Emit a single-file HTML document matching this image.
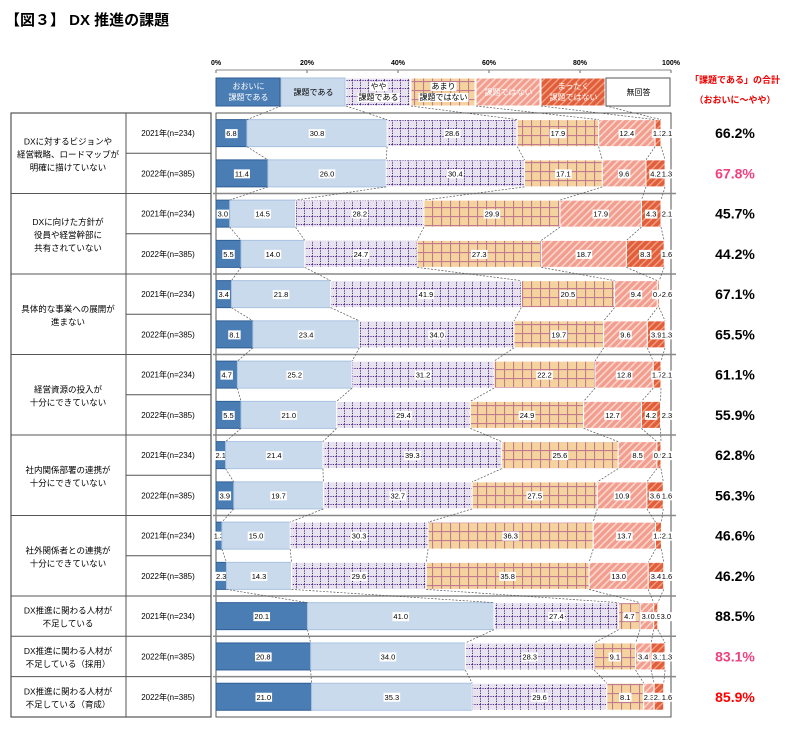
<!DOCTYPE html>
<html><head><meta charset="utf-8">
<style>
body{margin:0;background:#fff;width:800px;height:732px;overflow:hidden;font-family:"Liberation Sans","Noto Sans CJK JP",sans-serif;}
svg{position:absolute;left:0;top:0}
</style></head>
<body>
<svg id="c" width="800" height="732" xmlns="http://www.w3.org/2000/svg">
<defs>
<pattern id="pPur" width="8" height="8" patternUnits="userSpaceOnUse"><rect width="8" height="8" fill="#e8e2ef"/><path d="M0 0.5H8M0.5 0V8" stroke="#4b2a86" stroke-width="1" stroke-dasharray="1.2,1.2"/></pattern>
<pattern id="pOra" width="9" height="9" patternUnits="userSpaceOnUse"><rect width="9" height="9" fill="#f4d39f"/><path d="M0 0.5H9M0.5 0V9" stroke="#c27a8e" stroke-width="1.2"/></pattern>
<pattern id="pPink" width="5" height="5" patternUnits="userSpaceOnUse" patternTransform="rotate(45)"><rect width="5" height="5" fill="#f29d8e"/><rect width="1.6" height="5" fill="#fbd6cd"/></pattern>
<pattern id="pRed" width="5" height="5" patternUnits="userSpaceOnUse" patternTransform="rotate(45)"><rect width="5" height="5" fill="#e15e3b"/><rect width="1.4" height="5" fill="#f2a085"/></pattern>
</defs>
<text x="5" y="25" font-size="15" font-weight="bold" fill="#000">【図３】 DX 推進の課題</text>
<g id="g"></g>
</svg>
<script>
const categories=[["DXに対するビジョンや","経営戦略、ロードマップが","明確に描けていない"],["DXに向けた方針が","役員や経営幹部に","共有されていない"],["具体的な事業への展開が","進まない"],["経営資源の投入が","十分にできていない"],["社内関係部署の連携が","十分にできていない"],["社外関係者との連携が","十分にできていない"],["DX推進に関わる人材が","不足している"],["DX推進に関わる人材が","不足している（採用）"],["DX推進に関わる人材が","不足している（育成）"]];
const yearLabels=["2021年(n=234)","2022年(n=385)","2021年(n=234)","2022年(n=385)","2021年(n=234)","2022年(n=385)","2021年(n=234)","2022年(n=385)","2021年(n=234)","2022年(n=385)","2021年(n=234)","2022年(n=385)","2021年(n=234)","2022年(n=385)","2022年(n=385)"];
const seriesNames=["おおいに\n課題である","課題である","やや\n課題である","あまり\n課題ではない","課題ではない","まったく\n課題ではない","無回答"];
const values=[
[6.8,30.8,28.6,17.9,12.4,1.3,2.1],[11.4,26.0,30.4,17.1,9.6,4.2,1.3],
[3.0,14.5,28.2,29.9,17.9,4.3,2.1],[5.5,14.0,24.7,27.3,18.7,8.3,1.6],
[3.4,21.8,41.9,20.5,9.4,0.4,2.6],[8.1,23.4,34.0,19.7,9.6,3.9,1.3],
[4.7,25.2,31.2,22.2,12.8,1.7,2.1],[5.5,21.0,29.4,24.9,12.7,4.2,2.3],
[2.1,21.4,39.3,25.6,8.5,0.9,2.1],[3.9,19.7,32.7,27.5,10.9,3.6,1.6],
[1.3,15.0,30.3,36.3,13.7,1.3,2.1],[2.3,14.3,29.6,35.8,13.0,3.4,1.6],
[20.1,41.0,27.4,4.7,3.0,0.9,3.0],[20.8,34.0,28.3,9.1,3.4,3.1,1.3],[21.0,35.3,29.6,8.1,2.3,2.1,1.6]];
const totals=["66.2%","67.8%","45.7%","44.2%","67.1%","65.5%","61.1%","55.9%","62.8%","56.3%","46.6%","46.2%","88.5%","83.1%","85.9%"];
const totalColors=["#000","#f0417e","#000","#000","#000","#000","#000","#000","#000","#000","#000","#000","#000","#f0417e","#f00"];
const ticks=[0,20,40,60,80,100];

const NS="http://www.w3.org/2000/svg",G=document.getElementById('g');
function el(t,a,p){const e=document.createElementNS(NS,t);for(const k in a)e.setAttribute(k,a[k]);(p||G).appendChild(e);return e;}
function txt(x,y,s,a,p){const e=el('text',Object.assign({x:x,y:y},a),p);e.textContent=s;return e;}
const X0=216,X1=671;
const xs=v=>X0+(X1-X0)*v/100;
const fills=["#4a7db3","#cadaed","url(#pPur)","url(#pOra)","url(#pPink)","url(#pRed)","#fff"];
const strokes=["#2f5f96","#a9c2e0","#fff","#fff","#fff","#fff","#fff"];
// rows
const rowTop=[],rowH=[];
for(let g=0;g<6;g++){for(let s=0;s<2;s++){rowTop.push(113+g*80.5+s*40.25);rowH.push(40.25);}}
for(let i=0;i<3;i++){rowTop.push(596+i*40.3);rowH.push(40.3);}
const groupRows=[[0,1],[2,3],[4,5],[6,7],[8,9],[10,11],[12],[13],[14]];
const F='"Liberation Sans","Noto Sans CJK JP",sans-serif';
// axis ticks
ticks.forEach(t=>{const e=txt(xs(t),65,t+"%",{"font-size":7,"text-anchor":"middle","font-family":F,"font-weight":"bold"});


el('line',{x1:xs(t),x2:xs(t),y1:70,y2:73,stroke:"#666"});});
el('line',{x1:X0,x2:X1,y1:70,y2:70,stroke:"#888"});
// legend
const lw=(X1-X0)/7;
seriesNames.forEach((n,i)=>{const lx=X0+i*lw;
const r=el('rect',{x:lx,y:78,width:lw-1,height:28,fill:fills[i],stroke:i==6?"#555":strokes[i]});


const ls=n.split("\n");ls.forEach((l,j)=>{const tt=txt(lx+lw/2,ls.length==1?95:89+j*11,l,{"font-size":8,"text-anchor":"middle","font-family":F,fill:i==0?"#fff":"#000"});
if(i>1&&i<6){const b=tt.getBBox();el('rect',{x:b.x-1,y:b.y,width:b.width+2,height:b.height,fill:i==4||i==5?"none":"#fff"}).parentNode.insertBefore(G.lastChild,tt);}
if(i==4||i==5)tt.setAttribute('fill','#fff');});});
// right header
txt(735,83,"「課題である」の合計",{"font-size":9,"text-anchor":"middle","font-family":F,fill:"#e00","font-weight":"bold"});
txt(735,103,"（おおいに～やや）",{"font-size":9,"text-anchor":"middle","font-family":F,fill:"#e00","font-weight":"bold"});
// table
el('rect',{x:11,y:113,width:200,height:604,fill:"none",stroke:"#555","stroke-width":1.2});
el('line',{x1:126,x2:126,y1:113,y2:717,stroke:"#555"});
el('rect',{x:X0,y:113,width:X1-X0,height:604,fill:"none",stroke:"#555"});
groupRows.forEach((rows,gi)=>{const top=rowTop[rows[0]],last=rows[rows.length-1],bot=rowTop[last]+rowH[last];
if(gi>0){el('line',{x1:11,x2:211,y1:top,y2:top,stroke:"#555"});el('line',{x1:X0-3,x2:X1+5,y1:top,y2:top,stroke:"#888","stroke-width":1.5});}
const lines=categories[gi],cy=(top+bot)/2;
lines.forEach((l,j)=>{const e=txt(68,cy+4+(j-(lines.length-1)/2)*13,l,{"font-size":8.5,"text-anchor":"middle","font-family":F});

});
if(rows.length==2)el('line',{x1:126,x2:211,y1:rowTop[rows[1]],y2:rowTop[rows[1]],stroke:"#555"});
});
// bars
const BH=27;
let prev=null;
values.forEach((vals,r)=>{const cy=rowTop[r]+rowH[r]/2,by=cy-BH/2;
const yl=txt(168,cy+3,yearLabels[r],{"font-size":8,"text-anchor":"middle","font-family":F});


let acc=0;const bounds=[];
vals.forEach((v,i)=>{const x=xs(acc),w=xs(acc+v)-x;acc+=v;bounds.push(xs(acc));
if(i<6){const rc=el('rect',{x:x,y:by,width:w,height:BH,fill:fills[i],stroke:strokes[i],"stroke-width":1});

}
let lx=i==6?Math.min(xs(acc-v)+8,X1-4):x+w/2;
const s=v.toFixed(1);const t=txt(lx,cy+3,s,{"font-size":7.5,"text-anchor":"middle","font-family":F});
const b=t.getBBox();const bg=el('rect',{x:b.x-1,y:b.y,width:b.width+2,height:b.height,fill:"#fff"});G.insertBefore(bg,t);

});
const tl=txt(735,cy+5,totals[r],{"font-size":14,"font-weight":"bold","text-anchor":"middle","font-family":F,fill:totalColors[r]});


if(prev){bounds.slice(0,6).forEach((b,i)=>el('line',{x1:prev.b[i],y1:prev.y,x2:b,y2:by,stroke:"#555","stroke-width":0.7,"stroke-dasharray":"2,1.5"}));}
else{bounds.slice(0,6).forEach((b,i)=>el('line',{x1:X0+(i+1)*lw,y1:106,x2:b,y2:by,stroke:"#555","stroke-width":0.7,"stroke-dasharray":"2,1.5"}));}
prev={b:bounds,y:by+BH};
});
</script>
</body></html>
